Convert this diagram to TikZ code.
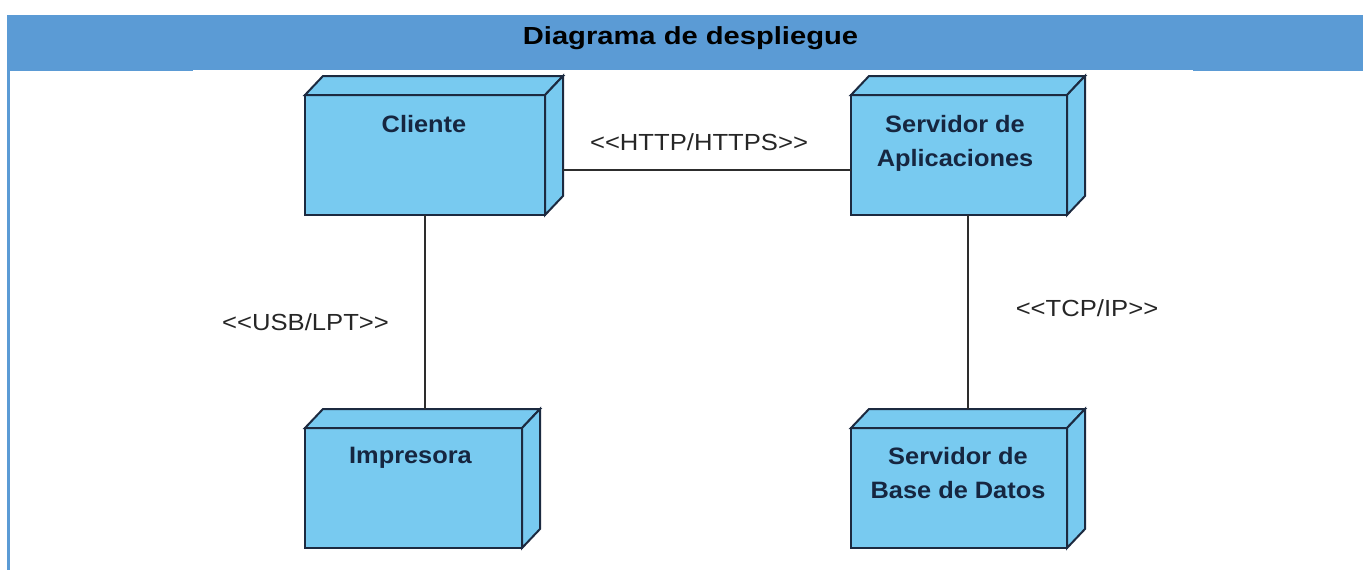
\documentclass[tikz,border=0pt]{standalone}
\usepackage{fontspec}
\setmainfont{Liberation Sans}
\usetikzlibrary{calc}
\definecolor{barblue}{RGB}{91,155,213}
\definecolor{nodefill}{RGB}{120,202,240}
\definecolor{nodeedge}{RGB}{28,42,64}
\definecolor{nodetext}{RGB}{22,38,64}
\definecolor{wire}{RGB}{45,45,45}
% horizontally widened text
\newcommand\wideText[2]{\scalebox{#1}[1]{#2}}

\begin{document}
\begin{tikzpicture}[x=1pt,y=-1pt,
  front/.style={rectangle, draw=nodeedge, fill=nodefill, line width=2pt,
    minimum height=120pt, inner sep=0pt, outer sep=0pt},
  face/.style={draw=nodeedge, fill=nodefill, line width=2pt, line join=miter},
  ntext/.style={text=nodetext, font=\fontsize{23.7}{34}\selectfont\bfseries,
    align=center, inner sep=0pt, anchor=north},
  conn/.style={draw=wire, line width=2pt},
  stereo/.style={font=\fontsize{23.3}{28}\selectfont, text=black!85,
    inner sep=0pt, anchor=base}
]
\useasboundingbox (0,0) rectangle (1363,570);

% title bar and frame
\fill[barblue] (7,15) rectangle (1363,70);
\fill[barblue] (7,70) rectangle (10,570);
\fill[barblue] (10,70) rectangle (193,71);
\fill[barblue] (1193,70) rectangle (1363,71);
\node[font=\fontsize{24.7}{28}\selectfont\bfseries, anchor=base, inner sep=0pt]
  (title) at (690.5,44) {\wideText{1.18}{Diagrama de despliegue}};

% deployment nodes (front faces)
\node[front, minimum width=240pt] (cli) at (425,155) {};
\node[front, minimum width=217pt] (imp) at (413.5,488) {};
\node[front, minimum width=216pt] (app) at (959,155) {};
\node[front, minimum width=216pt] (db)  at (959,488) {};

% top and side faces
\foreach \n in {cli,imp,app,db}{
  \draw[face] (\n.north west) -- ([xshift=18pt,yshift=19pt]\n.north west)
    -- ([xshift=18pt,yshift=19pt]\n.north east) -- (\n.north east) -- cycle;
  \draw[face] (\n.north east) -- ([xshift=18pt,yshift=19pt]\n.north east)
    -- ([xshift=18pt,yshift=19pt]\n.south east) -- (\n.south east) -- cycle;
}

% node names
\node[ntext] (cliT) at ($(cli.north)+(-1,20)$) {\wideText{1.07}{Cliente}};
\node[ntext] (impT) at ($(imp.north)+(-3,19)$) {\wideText{1.07}{Impresora}};
\node[ntext] (appT) at ($(app.north)+(-4,20)$)
  {\wideText{1.07}{Servidor de}\\\wideText{1.07}{Aplicaciones}};
\node[ntext] (dbT) at ($(db.north)+(-1,19)$)
  {\wideText{1.07}{Servidor de}\\\wideText{1.07}{Base de Datos}};

% communication paths
\coordinate (cliR) at ($(cli.east)+(18,15)$);
\draw[conn] (cliR) -- (cliR -| app.west);
\coordinate (impTop) at ($(imp.north)+(0,-19)$);
\draw[conn] (cli.south) -- (cli.south |- impTop);
\coordinate (appS) at ($(app.south)+(9,0)$);
\coordinate (dbTop) at ($(db.north)+(0,-19)$);
\draw[conn] (appS) -- (appS |- dbTop);

% stereotypes
\node[stereo] (http) at (699,150) {\wideText{1.1}{<{}<HTTP/HTTPS>{}>}};
\node[stereo] (usb) at (305.5,330) {\wideText{1.1}{<{}<USB/LPT>{}>}};
\node[stereo] (tcp) at (1087,316) {\wideText{1.1}{<{}<TCP/IP>{}>}};
\end{tikzpicture}
\end{document}
